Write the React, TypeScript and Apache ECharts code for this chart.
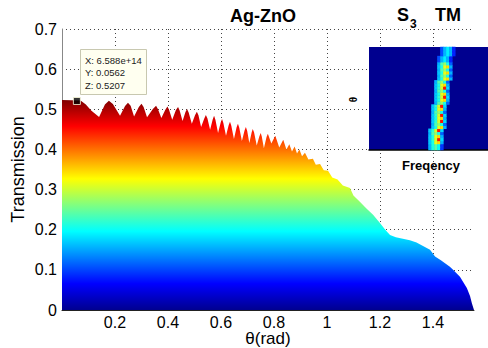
import React, { useEffect, useRef } from "react";
import * as echarts from "echarts";

// Main curve: theta (rad) vs transmission (upper envelope of the surface)
const thetaRad = [
  0.0, 0.07, 0.09, 0.11, 0.14, 0.162, 0.177, 0.192, 0.219, 0.238, 0.249, 0.259, 0.272, 0.29, 0.3,
  0.308, 0.321, 0.343, 0.355, 0.362, 0.375, 0.39, 0.398, 0.404, 0.416, 0.43, 0.438, 0.444, 0.455,
  0.466, 0.472, 0.478, 0.49, 0.502, 0.509, 0.515, 0.525, 0.537, 0.543, 0.549, 0.559, 0.569, 0.574,
  0.579, 0.589, 0.599, 0.604, 0.609, 0.619, 0.629, 0.634, 0.639, 0.649, 0.659, 0.664, 0.669, 0.679,
  0.689, 0.694, 0.699, 0.707, 0.716, 0.72, 0.725, 0.735, 0.745, 0.75, 0.754, 0.762, 0.772, 0.777,
  0.782, 0.79, 0.805, 0.82, 0.835, 0.847, 0.858, 0.868, 0.878, 0.887, 0.896, 0.906, 0.917, 0.93,
  0.947, 0.958, 0.974, 0.988, 1.004, 1.02, 1.04, 1.06, 1.087, 1.1, 1.125, 1.15, 1.174, 1.2, 1.22,
  1.238, 1.26, 1.313, 1.338, 1.389, 1.408, 1.43, 1.464, 1.476, 1.502, 1.528, 1.54, 1.547, 1.552, 1.555,
];
const transmission = [
  0.523, 0.522, 0.512, 0.497, 0.481, 0.512, 0.521, 0.513, 0.484, 0.508, 0.516, 0.509, 0.482, 0.506, 0.514,
  0.506, 0.48, 0.501, 0.509, 0.501, 0.478, 0.499, 0.507, 0.499, 0.474, 0.498, 0.506, 0.497, 0.471,
  0.493, 0.501, 0.492, 0.464, 0.485, 0.494, 0.485, 0.456, 0.477, 0.486, 0.477, 0.449, 0.475, 0.484,
  0.474, 0.441, 0.467, 0.476, 0.466, 0.434, 0.46, 0.469, 0.459, 0.426, 0.455, 0.464, 0.454, 0.421,
  0.447, 0.456, 0.446, 0.416, 0.443, 0.451, 0.442, 0.41, 0.433, 0.441, 0.432, 0.403, 0.431, 0.439,
  0.43, 0.415, 0.434, 0.405, 0.424, 0.4, 0.413, 0.395, 0.407, 0.39, 0.4, 0.383, 0.392, 0.375,
  0.377, 0.362, 0.364, 0.348, 0.347, 0.33, 0.325, 0.31, 0.304, 0.285, 0.269, 0.252, 0.237, 0.217, 0.2,
  0.187, 0.181, 0.174, 0.168, 0.15, 0.133, 0.124, 0.108, 0.1, 0.083, 0.055, 0.035, 0.017, 0.006, 0.0,
];
const xTickLabels = ["0.2", "0.4", "0.6", "0.8", "1", "1.2", "1.4"];

// Data cursor
const cursorTheta = [0.0562];
const cursorTrans = [0.5207];
const cursorLines = ["X: 6.588e+14", "Y: 0.0562", "Z: 0.5207"];

// Inset (S3 TM map): band position per row (bottom -> top) and intensity profiles
const insetCols = 40;
const insetRows = 34;
const bandLeft = [
  20, 20, 20, 20, 20, 20, 20, 21, 21, 21, 21, 21, 21, 21, 21, 22, 22, 22, 22, 22, 22, 22, 22,
  23, 23, 23, 23, 23, 23, 23, 23, 24, 24, 24,
];
const rowKind = [
  3, 3, 1, 0, 1, 4, 0, 1, 4, 0, 1, 0, 4, 1, 0, 4, 1, 0, 1, 4, 0, 1, 4, 1, 4, 1, 4, 1, 4, 2, 2, 2, 2, 2,
];
const bandProfiles = [
  [0.32, 0.42, 0.58, 0.86, 0.34],
  [0.32, 0.4, 0.6, 0.66, 0.3],
  [0.2, 0.3, 0.36, 0.3, 0.16],
  [0.3, 0.4, 0.46, 0.38, 0.18],
  [0.3, 0.45, 0.52, 0.4, 0.22],
];

const jet = [
  "#00008f", "#0000ff", "#0080ff", "#00ffff", "#80ff80", "#ffff00", "#ff8000", "#ff0000", "#800000",
];

const FONT = "'Liberation Sans', Arial, Helvetica, sans-serif";

export default function App() {
  const ref = useRef<HTMLDivElement>(null);

  useEffect(() => {
    if (!ref.current) return;
    document.body.style.margin = "0";
    const chart = echarts.init(ref.current, undefined, { renderer: "svg", width: 488, height: 348 });

    const curve = thetaRad.map((x, i) => [x, transmission[i]]);
    const cursor = cursorTheta.map((x, i) => [x, cursorTrans[i]]);
    const insetCells: number[][] = [];
    for (let r = 0; r < insetRows; r++) {
      const prof = bandProfiles[rowKind[r]];
      prof.forEach((v, k) => insetCells.push([bandLeft[r] + k, r, v]));
    }

    const stops = jet.map((c, i) => ({ offset: 1 - i / (jet.length - 1), color: c })).reverse();

    const option: any = {
      animation: false,
      backgroundColor: "#fff",
      textStyle: { fontFamily: FONT },
      grid: [
        { left: 62, right: 14, top: 29, bottom: 38, containLabel: false, outerBoundsMode: "none" },
        {
          left: 369, top: 47, width: 119, height: 103, show: true, outerBoundsMode: "none",
          backgroundColor: "#00008f", borderWidth: 0, z: 3,
        },
      ],
      xAxis: [
        {
          type: "value", min: 0, max: 1.555, interval: 0.2, gridIndex: 0,
          axisLine: { show: true, lineStyle: { color: "#222", width: 1 } },
          axisTick: { show: false },
          axisLabel: {
            fontSize: 16, color: "#000", margin: 4, fontFamily: FONT,
            formatter: (v: number) => {
              const s = String(+v.toFixed(1));
              return xTickLabels.indexOf(s) >= 0 && Math.abs(v - +s) < 1e-6 ? s : "";
            },
          },
          splitLine: { show: true, showMinLine: false, showMaxLine: false, lineStyle: { type: [1, 3], color: "#444" } },
          name: "θ(rad)", nameLocation: "middle", nameGap: 20, nameMoveOverlap: false,
          nameTextStyle: { fontSize: 17, color: "#000", fontFamily: FONT },
        },
        {
          type: "category", gridIndex: 1, data: Array.from({ length: insetCols }, (_, i) => i),
          axisLine: { show: true, lineStyle: { color: "#000", width: 1.5 } },
          axisTick: { show: false }, axisLabel: { show: false }, splitLine: { show: false }, z: 3,
        },
      ],
      yAxis: [
        {
          type: "value", min: 0, max: 0.7, interval: 0.1, gridIndex: 0,
          axisLine: { show: true, lineStyle: { color: "#888", width: 1 } },
          axisTick: { show: false },
          axisLabel: { fontSize: 16, color: "#000", margin: 5, fontFamily: FONT },
          splitLine: { show: true, showMinLine: false, lineStyle: { type: [1, 3], color: "#444" } },
          name: "Transmission", nameLocation: "middle", nameGap: 35, nameMoveOverlap: false,
          nameTextStyle: { fontSize: 18, color: "#000", fontFamily: FONT },
        },
        {
          type: "category", gridIndex: 1, data: Array.from({ length: insetRows }, (_, i) => i),
          show: false, z: 3,
        },
      ],
      visualMap: {
        type: "continuous", show: false, min: 0, max: 1, dimension: 2, seriesIndex: 2,
        inRange: { color: jet },
      },
      series: [
        {
          type: "line", xAxisIndex: 0, yAxisIndex: 0, data: curve, showSymbol: false, smooth: false,
          lineStyle: { width: 0, opacity: 0 },
          areaStyle: { opacity: 1, color: new echarts.graphic.LinearGradient(0, 0, 0, 1, stops) },
          z: 2, silent: true,
        },
        {
          type: "scatter", xAxisIndex: 0, yAxisIndex: 0, data: cursor, symbol: "rect", symbolSize: 7,
          itemStyle: { color: "#000", borderColor: "#ffffe0", borderWidth: 1 }, z: 6,
        },
        {
          type: "heatmap", xAxisIndex: 1, yAxisIndex: 1, data: insetCells, z: 4,
          itemStyle: { borderWidth: 0 },
        },
      ],
      graphic: [
        {
          type: "text", x: 263, y: 16, z: 10,
          style: { text: "Ag-ZnO", fontSize: 18, fontWeight: "bold", fontFamily: FONT, fill: "#000", align: "center", verticalAlign: "middle" },
        },
        {
          type: "text", x: 397, y: 15, z: 10,
          style: { text: "S", fontSize: 18, fontWeight: "bold", fontFamily: FONT, fill: "#000", align: "left", verticalAlign: "middle" },
        },
        {
          type: "text", x: 410, y: 24, z: 10,
          style: { text: "3", fontSize: 12, fontWeight: "bold", fontFamily: FONT, fill: "#000", align: "left", verticalAlign: "middle" },
        },
        {
          type: "text", x: 435, y: 15, z: 10,
          style: { text: "TM", fontSize: 18, fontWeight: "bold", fontFamily: FONT, fill: "#000", align: "left", verticalAlign: "middle" },
        },
        {
          type: "text", x: 353.5, y: 99.5, rotation: Math.PI / 2, z: 10,
          style: { text: "θ", fontSize: 10, fontWeight: "bold", fontFamily: FONT, fill: "#000", align: "center", verticalAlign: "middle" },
        },
        {
          type: "text", x: 431, y: 165, z: 10,
          style: { text: "Freqency", fontSize: 13, fontWeight: "bold", fontFamily: FONT, fill: "#000", align: "center", verticalAlign: "middle" },
        },
        {
          type: "rect", z: 10,
          shape: { x: 80.5, y: 49.5, width: 66, height: 45 },
          style: { fill: "#fffff0", stroke: "#c8c8b0", lineWidth: 1 },
        },
        ...cursorLines.map((t, i) => ({
          type: "text", x: 85, y: 60 + i * 12.5, z: 11,
          style: { text: t, fontSize: 9.5, fontFamily: FONT, fill: "#222", align: "left", verticalAlign: "middle" },
        })),
      ],
    };

    chart.setOption(option);
    return () => chart.dispose();
  }, []);

  return (
    <div
      ref={ref}
      style={{ position: "fixed", left: 0, top: 0, width: 488, height: 348, background: "#fff" }}
    />
  );
}
